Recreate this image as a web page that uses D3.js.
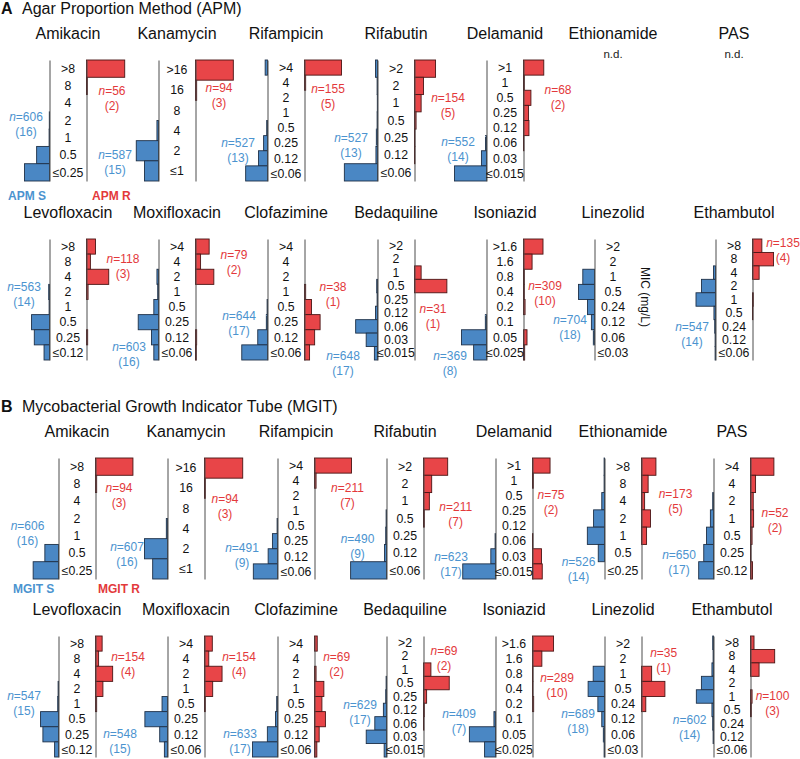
<!DOCTYPE html>
<html><head><meta charset="utf-8">
<script src="https://cdn.jsdelivr.net/npm/d3@7"></script>
<style>body{margin:0;background:#fff}svg{display:block}</style>
</head><body><svg id="chart" width="800" height="759"></svg>
<script>
// ---------- DATA ----------
const drugs = ["Amikacin","Kanamycin","Rifampicin","Rifabutin","Delamanid","Ethionamide","PAS",
  "Levofloxacin","Moxifloxacin","Clofazimine","Bedaquiline","Isoniazid","Linezolid","Ethambutol"];

const micCategories = [
  [">8","8","4","2","1","0.5","≤0.25"],
  [">16","16","8","4","2","≤1"],
  [">4","4","2","1","0.5","0.25","0.12","≤0.06"],
  [">2","2","1","0.5","0.25","0.12","≤0.06"],
  [">1","1","0.5","0.25","0.12","0.06","0.03","≤0.015"],
  [">8","8","4","2","1","0.5","≤0.25"],
  [">4","4","2","1","0.5","0.25","≤0.12"],
  [">8","8","4","2","1","0.5","0.25","≤0.12"],
  [">4","4","2","1","0.5","0.25","0.12","≤0.06"],
  [">4","4","2","1","0.5","0.25","0.12","≤0.06"],
  [">2","2","1","0.5","0.25","0.12","0.06","0.03","≤0.015"],
  [">1.6","1.6","0.8","0.4","0.2","0.1","0.05","≤0.025"],
  [">2","2","1","0.5","0.24","0.12","0.06","≤0.03"],
  [">8","8","4","2","1","0.5","0.24","0.12","≤0.06"]
];

// percentage of isolates per MIC category (top category first)
const apmSusceptible = [
  [0,0,0,0.5,1,33,64],
  [0,0,0,4,57,36],
  [6,0,0,0,2,10,23,56],
  [5,1,0.5,1,3,4,85],
  [0,0,0,0,0,2.5,13,82],
  null, null,
  [0,0,0,2,1,46,39,14],
  [0,0,4,2,12,52,18,12],
  [0,0,0,0,1,3,25,66],
  [0,0,0,2,1,5,56,29,8],
  [0,0,0,0,0,3,64,33],
  [0,0,30,41,18,8,3,0],
  [0,0,5,36,50,4,2,1,1]
];
const apmResistant = [
  [98,2,0,0,0,0,0],
  [97,3,0,0,0,0],
  [95,3,0,0,0,0,0,0],
  [54,23,17,4,1,1,0],
  [52,2,19,13,14,1,0,0],
  null, null,
  [23,10,57,4,0,0,3,0],
  [35,13,47,0,0,0,3,2],
  [0,0,0,3,18,40,26,13],
  [0,0,17,83,0,0,0,0,0],
  [50,22,2,2,4,0,9,3],
  null,
  [24,54,17,0,2,1,0,0,0]
];
const apmSusceptibleN    = [606,587,527,527,552,null,null,563,603,644,648,369,704,547];
const apmSusceptibleLabs = [16,15,13,13,14,null,null,14,16,17,17,8,18,14];
const apmResistantN      = [56,94,155,154,68,null,null,118,79,38,31,309,null,135];
const apmResistantLabs   = [2,3,5,5,2,null,null,3,2,1,1,10,null,4];

const mgitSusceptible = [
  [0,0,0,0,0,35,65],
  [0,0,0,3,59,38],
  [0,0,0,0,1,13,24,62],
  [0,0,0,1,2,5,92],
  [0,0,0,0,0,1,12,84],
  [1,1,7,28,44,16,0],
  [0,0,2,8,18,25,38],
  [0,0,0,1,2,46,40,10],
  [0,0,0,0,14,58,20,8],
  [0,0,0,0,2,5,26,64],
  [0,0,0,1,2,8,30,52,6],
  [0,0,0,0,0,4,67,28],
  [0,0,29,42,17,7,3,1],
  [2,1,4,31,44,4,2,1,0]
];
const mgitResistant = [
  [96,3,0,0,0,0,0],
  [98,2,0,0,0,0],
  [95,4,0,0,0,0,0,0],
  [62,21,15,2,0,0,0],
  [45,2,0,0,0,1,23,25],
  [37,17,8,23,13,0,0],
  [60,13,7,8,4,1,5],
  [17,8,44,19,3,0,0,0],
  [20,11,45,21,2,0,0,0],
  [7,0,4,24,19,28,12,6],
  [0,0,19,66,8,2,1,0,0],
  [54,24,1,1,3,0,0,0],
  [0,0,26,60,11,0,0,0],
  [9,62,22,0,4,2,0,0,0]
];
const mgitSusceptibleN    = [606,607,491,490,623,526,650,547,548,633,629,409,689,602];
const mgitSusceptibleLabs = [16,16,9,9,17,14,17,15,15,17,17,7,18,14];
const mgitResistantN      = [94,94,211,211,75,173,52,154,154,69,69,289,35,100];
const mgitResistantLabs   = [3,3,7,7,2,5,2,4,4,2,2,10,1,3];

// ---------- LAYOUT (positions only) ----------
const panelH = 121, halfGap = 18.5, maxBar = 39;
const rowTops = {A:[60,239], B:[458,636]};
const colCenters = {A:[68,177,286,396,505,613,734], B:[77,186,296,405,514,623,732]};
// [blue dx, blue dy, red dx, red dy] of the "n=" line centre, relative to column centre / panel top
const labelOffsetsA = [[-42,57,44,31],[-62,95,42,28],[-48,83,42,29],[-45,78,52,38],[-47,82,53,30],null,null,
  [-44,48,55,20],[-48,108,57,16],[-47,77,47,48],[-53,117,37,70],[-55,117,40,47],[-43,81,null,null],[-42,88,49,4]];
const labelOffsetsB = [[-49.5,68,42,30],[-59,89,39,41],[-54,90,51.5,30],[-47.5,81,50.7,49],[-63,99,37,37],[-44.5,104,52.5,36],[-53,97,43,55],
  [-53,60,51,21],[-66,98,53,21],[-56,98,40.7,21],[-45,69,39,15],[-55,78,43,42],[-45,78,40.7,17],[-42.3,84,40.5,60]];

const FONT = '"Liberation Sans", Arial, Helvetica, sans-serif';
const BLUE="#4a87c4", RED="#e84548", BLUE_TXT="#4b93cf", RED_TXT="#e3393b";
const BLUE_EDGE="#1e3047", RED_EDGE="#4a1515", AXIS="#4d4d4d";

const svg = d3.select("#chart").attr("font-family", FONT);
const barScale = d3.scaleLinear().domain([0,100]).range([0,maxBar]);

function nLabel(g, x, y, n, labs, color) {
  const t = g.append("text").attr("x",x).attr("y",y+4).attr("text-anchor","middle")
    .attr("font-size",12).attr("fill",color);
  t.append("tspan").attr("font-style","italic").text("n");
  t.append("tspan").text("=" + n);
  g.append("text").attr("x",x).attr("y",y+19).attr("text-anchor","middle")
    .attr("font-size",12).attr("fill",color).text("(" + labs + ")");
}

function drawSection(key, S, R, SN, SL, RN, RL, offsets) {
  drugs.forEach((drug, i) => {
    const row = i < 7 ? 0 : 1, col = i % 7;
    const cx = colCenters[key][col], top = rowTops[key][row];
    const g = svg.append("g");
    g.append("text").attr("x",cx).attr("y",top-21).attr("text-anchor","middle")
      .attr("font-size",16).attr("fill","#111").text(drug);
    if (!S[i]) {
      g.append("text").attr("x",cx).attr("y",top-2).attr("text-anchor","middle")
        .attr("font-size",11.5).attr("fill","#222").text("n.d.");
      return;
    }
    const cats = micCategories[i];
    const y = d3.scaleBand().domain(cats).range([top, top + panelH]);
    const sData = cats.map((c,k) => ({c, v:S[i][k]})).filter(d => d.v > 0);
    g.selectAll("rect.s").data(sData).join("rect").attr("class","s")
      .attr("x", d => cx - halfGap - barScale(d.v)).attr("y", d => y(d.c))
      .attr("width", d => barScale(d.v)).attr("height", y.bandwidth())
      .attr("fill", BLUE).attr("stroke", BLUE_EDGE).attr("stroke-width", 0.9);
    if (R[i]) {
      const rData = cats.map((c,k) => ({c, v:R[i][k]})).filter(d => d.v > 0);
      g.selectAll("rect.r").data(rData).join("rect").attr("class","r")
        .attr("x", cx + halfGap).attr("y", d => y(d.c))
        .attr("width", d => barScale(d.v)).attr("height", y.bandwidth())
        .attr("fill", RED).attr("stroke", RED_EDGE).attr("stroke-width", 0.9);
      const rAx = g.append("g").attr("transform", `translate(${cx + halfGap},0)`)
        .call(d3.axisLeft(y).tickValues([]).tickSizeOuter(0));
      rAx.select(".domain").attr("stroke", AXIS);
    }
    const ax = g.append("g").attr("transform", `translate(${cx - halfGap},0)`)
      .call(d3.axisRight(y).tickSize(0).tickSizeOuter(0).tickPadding(0));
    ax.select(".domain").attr("stroke", AXIS);
    ax.selectAll("text").attr("x", halfGap).attr("text-anchor","middle")
      .attr("font-size", 12.3).attr("font-family", FONT).attr("fill", "#111").attr("dy","0.34em");
    const o = offsets[i];
    nLabel(g, cx + o[0], top + o[1], SN[i], SL[i], BLUE_TXT);
    if (R[i] && o[2] !== null) nLabel(g, cx + o[2], top + o[3], RN[i], RL[i], RED_TXT);
  });
}

// headers
function header(letter, title, y) {
  svg.append("text").attr("x",1).attr("y",y).attr("font-size",16).attr("font-weight","bold").attr("fill","#111").text(letter);
  svg.append("text").attr("x",22).attr("y",y).attr("font-size",16).attr("fill","#111").text(title);
}
header("A", "Agar Proportion Method (APM)", 14);
header("B", "Mycobacterial Growth Indicator Tube (MGIT)", 412);

drawSection("A", apmSusceptible, apmResistant, apmSusceptibleN, apmSusceptibleLabs, apmResistantN, apmResistantLabs, labelOffsetsA);
drawSection("B", mgitSusceptible, mgitResistant, mgitSusceptibleN, mgitSusceptibleLabs, mgitResistantN, mgitResistantLabs, labelOffsetsB);

// legends
function legend(x1, x2, y, s, r) {
  svg.append("text").attr("x",x1).attr("y",y).attr("font-size",12).attr("font-weight","bold").attr("fill",BLUE_TXT).text(s);
  svg.append("text").attr("x",x2).attr("y",y).attr("font-size",12).attr("font-weight","bold").attr("fill",RED_TXT).text(r);
}
legend(8, 92, 200, "APM S", "APM R");
legend(13, 98, 593, "MGIT S", "MGIT R");

// MIC axis title beside APM Linezolid
svg.append("text").attr("transform", `translate(${colCenters.A[5] + 28},${rowTops.A[1] + 58}) rotate(90)`)
  .attr("text-anchor","middle").attr("font-size",12).attr("fill","#111").text("MIC (mg/L)");
</script>
</body></html>
